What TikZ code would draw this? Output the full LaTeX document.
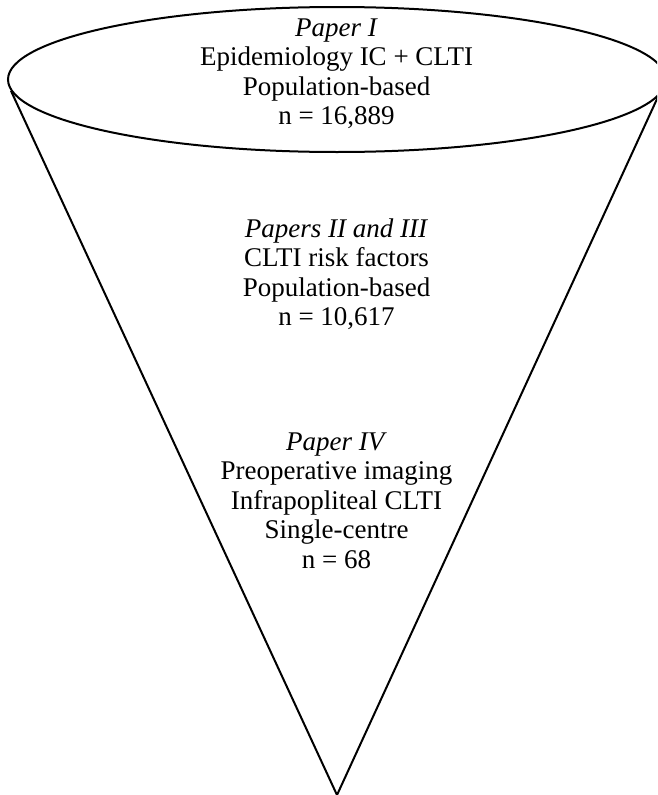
\documentclass[tikz,border=0pt]{standalone}
\usepackage{fontspec}
\setmainfont{Liberation Serif}
\usetikzlibrary{shapes.geometric}
\begin{document}
\begin{tikzpicture}[x=1pt,y=-1pt,
  outline/.style={line width=2pt,draw=black,line join=miter},
  txt/.style={align=center,font=\fontsize{27}{29.5}\selectfont,inner sep=0pt,anchor=base}]
\useasboundingbox (0,0) rectangle (657,795);
\clip (0,0) rectangle (657,795);
\node[ellipse,outline,minimum width=658pt,minimum height=145pt,inner sep=0pt] (top) at (337,79.5) {};
\coordinate (apex) at (337,795);
\draw[outline] (top.182.76) -- (apex) -- (top.357.24);
% base anchor = baseline of the last line
\node[txt] (p1) at (336.5,124.5) {\textit{Paper I}\\Epidemiology IC + CLTI\\Population-based\\n = 16,889};
\node[txt] (p23) at (336.5,325.5) {\textit{Papers II and III}\\CLTI risk factors\\Population-based\\n = 10,617};
\node[txt] (p4) at (336.5,568) {\textit{Paper IV}\\Preoperative imaging\\Infrapopliteal CLTI\\Single-centre\\n = 68};
\end{tikzpicture}
\end{document}
